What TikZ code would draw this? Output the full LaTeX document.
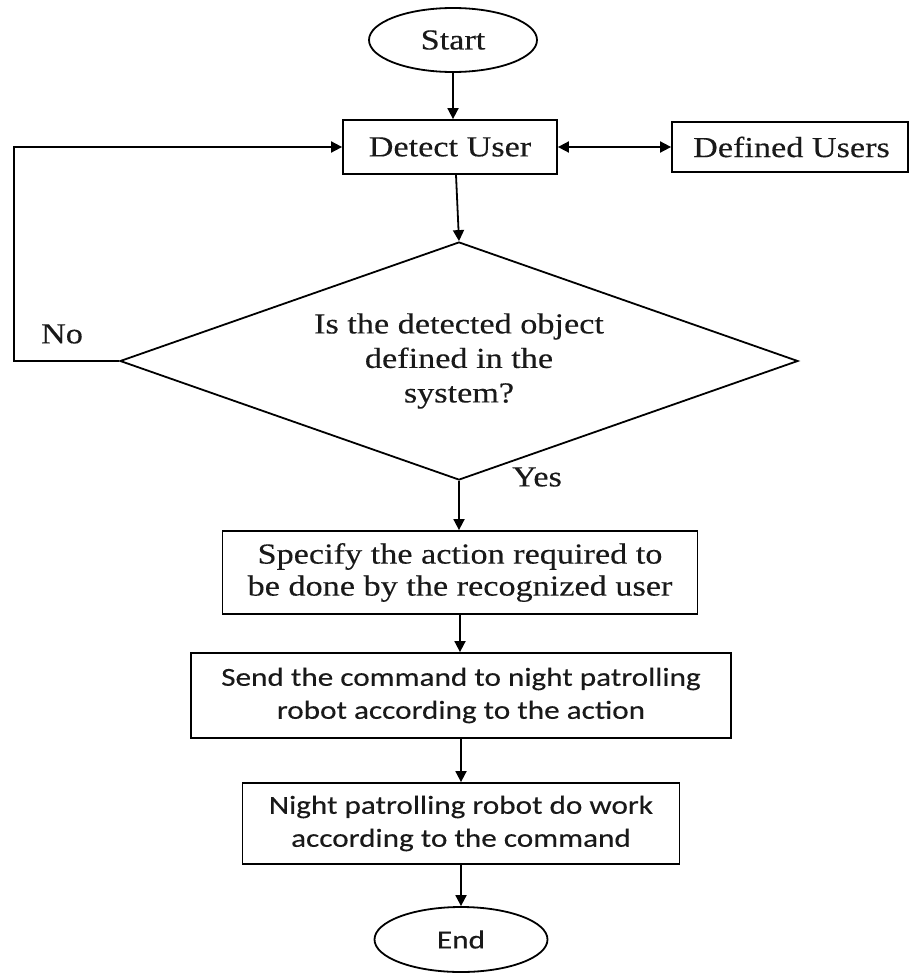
\documentclass[tikz,border=0pt]{standalone}
\usepackage{fontspec}
\setmainfont{Liberation Serif}[FakeStretch=1.18,FakeBold=0.3]
\newfontfamily\calib{Carlito}[FakeStretch=1.2,FakeBold=0.3]
\usetikzlibrary{shapes.geometric,arrows.meta}
\begin{document}
\begin{tikzpicture}[x=1pt,y=-1pt,
  every node/.style={text=black!90},
  serif/.style={font=\fontsize{29}{33}\selectfont},
  sans/.style={font=\calib\fontsize{26}{33}\selectfont},
  term/.style={draw=black,line width=1.8pt,ellipse,inner sep=0pt},
  procbox/.style={draw=black,line width=1.8pt,rectangle,inner sep=0pt,align=center},
  decide/.style={draw=black,line width=1.8pt,diamond,inner sep=0pt,aspect=2.85,align=center},
  conn/.style={draw=black,line width=1.8pt,-{Triangle[length=11pt,width=11pt]}},
  dconn/.style={draw=black,line width=1.8pt,{Triangle[length=11pt,width=11pt]}-{Triangle[length=11pt,width=11pt]}},
  lbl/.style={serif,inner sep=0pt}]
\useasboundingbox (0,0) rectangle (911,974);

\node[term,serif,minimum width=168pt,minimum height=64pt] (start) at (453,40) {Start};
\node[procbox,serif,minimum width=214pt,minimum height=54pt] (detect) at (450,147) {Detect User};
\node[procbox,serif,minimum width=236pt,minimum height=50pt] (defined) at (790,147) {\hspace*{3pt}Defined Users};
\node[decide,serif,minimum width=678pt,minimum height=238pt,font=\fontsize{29}{34.5}\selectfont] (dia) at (459,361) {Is the detected object\\defined in the\\system?};
\node[procbox,serif,minimum width=475pt,minimum height=83pt,font=\fontsize{29}{32}\selectfont] (spec) at (460,572.5) {Specify the action required to\\be done by the recognized user};
\node[procbox,sans,minimum width=540pt,minimum height=85pt] (send) at (461,695.5) {Send the command to night patrolling\\robot according to the action};
\node[procbox,sans,minimum width=437pt,minimum height=81pt] (night) at (461,823.5) {Night patrolling robot do work\\according to the command};
\node[term,sans,minimum width=173pt,minimum height=65pt] (end) at (461,939.5) {End};

\node[lbl] (no) at (62,334) {No};
\node[lbl] (yes) at (537,477) {Yes};

\coordinate (lc) at (14,361);

\draw[conn] (start.south) -- (start.south |- detect.north);
\draw[dconn] (detect.east) -- (defined.west);
\draw[conn] ([xshift=6pt]detect.south) -- (dia.north);
\draw[conn] (dia.west) -- (lc) |- (detect.west);
\draw[conn] (dia.south) -- (dia.south |- spec.north);
\draw[conn] (spec.south) -- (spec.south |- send.north);
\draw[conn] (send.south) -- (send.south |- night.north);
\draw[conn] (night.south) -- (night.south |- end.north);
\end{tikzpicture}
\end{document}
